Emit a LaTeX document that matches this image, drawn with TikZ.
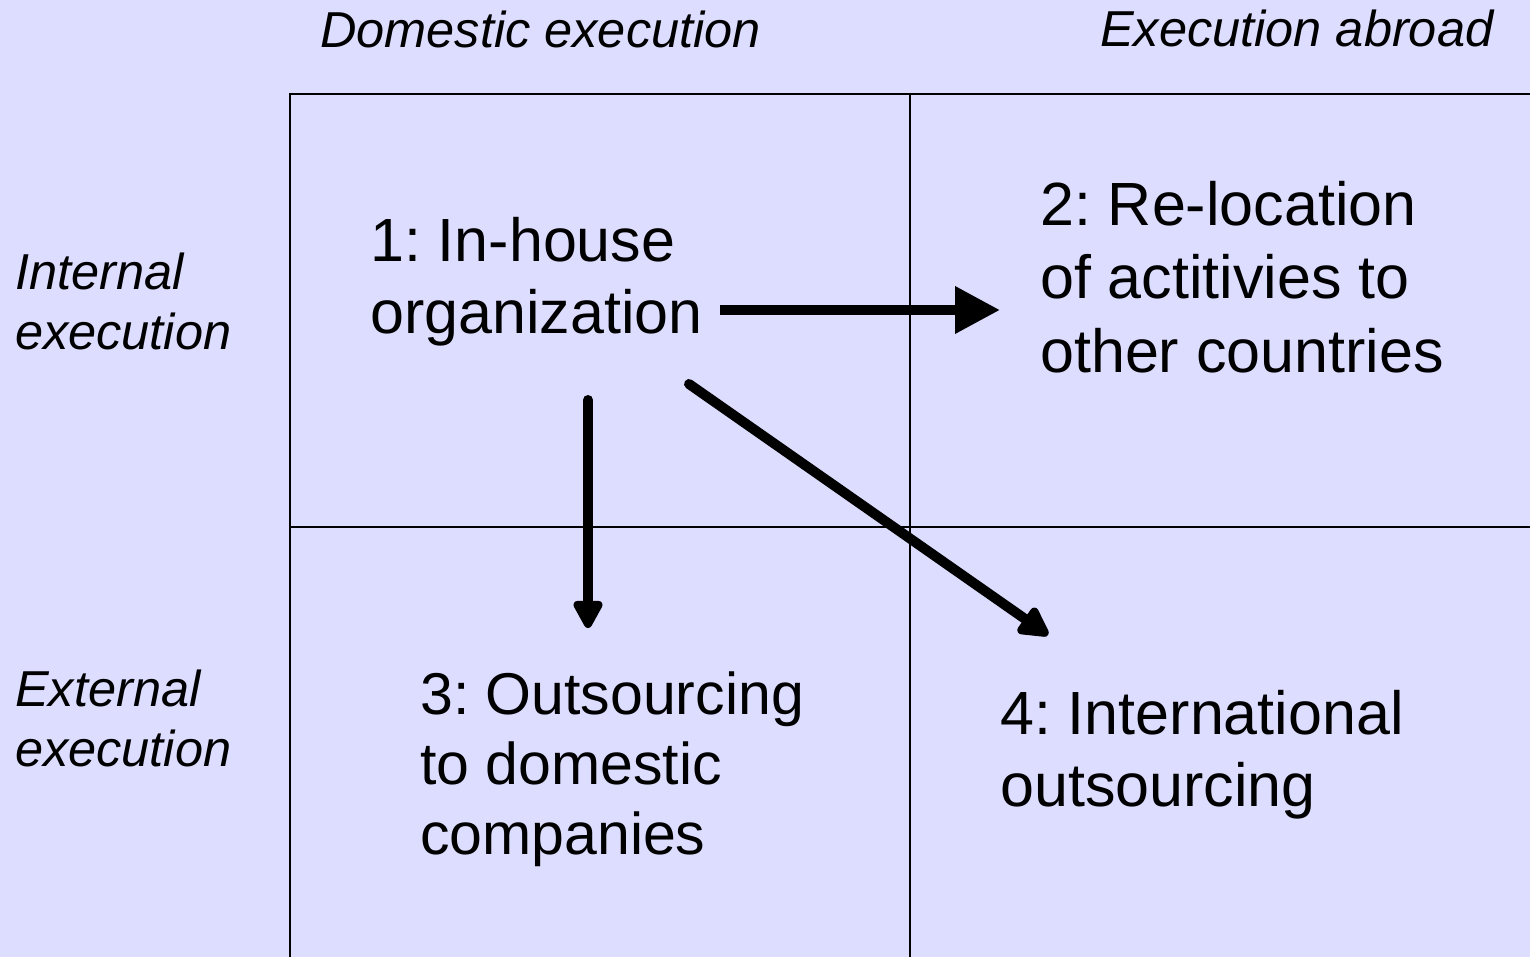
\documentclass[tikz,border=0pt]{standalone}
\usepackage{fontspec}
\setmainfont{Liberation Sans}
\usetikzlibrary{arrows.meta}
\definecolor{bgcol}{HTML}{DDDDFF}
\frenchspacing
\tikzset{
  grid/.style={line width=2.5pt, draw=black},
  big/.style={anchor=base west, inner sep=0pt, font=\fontsize{61}{73}\selectfont},
  bigsm/.style={big, font=\fontsize{59}{70}\selectfont},
  hdr/.style={anchor=base west, inner sep=0pt, font=\fontsize{50.5}{60}\itshape\selectfont},
  bigarrow/.style={line width=10pt, draw=black},
}
\begin{document}
\begin{tikzpicture}[x=1pt,y=-1pt]
\fill[bgcol] (0,0) rectangle (1530,957);
\useasboundingbox (0,0) rectangle (1530,957);
% grid
\draw[grid] (1531,94) -- (290,94) -- (290,958);
\draw[grid] (910,94) -- (910,958);
\draw[grid] (290,527) -- (1531,527);
% headers
\node[hdr] (h1) at (320,48) {Domestic execution};
\node[hdr] (h2) at (1100,47) {Execution abroad};
\node[hdr] (l1a) at (15,290) {Internal};
\node[hdr] (l1b) at (15,349) {execution};
\node[hdr] (l2a) at (15,706) {External};
\node[hdr] (l2b) at (15,766) {execution};
% cell texts
\node[big] (c1a) at (370,262) {1: In-house};
\node[big] (c1b) at (370,334) {organization};
\node[big] (c2a) at (1040,226) {2: Re-location};
\node[big] (c2b) at (1040,299) {of actitivies to};
\node[big] (c2c) at (1040,372) {other countries};
\node[bigsm] (c3a) at (420,714) {3: Outsourcing};
\node[bigsm] (c3b) at (420,784) {to domestic};
\node[bigsm] (c3c) at (420,854) {companies};
\node[big] (c4a) at (1000,734) {4: International};
\node[big] (c4b) at (1000,806) {outsourcing};
% arrow endpoints
\coordinate (a1s) at (720,310);
\coordinate (a1e) at (1000,310);
\coordinate (a2s) at (588,400);
\coordinate (a2e) at (588,628);
\coordinate (a3s) at (689,384);
\coordinate (a3e) at (1048,635);
\draw[bigarrow, -{Triangle[length=45pt,width=45pt]}] (a1s) -- (a1e);
\draw[bigarrow, line cap=round, -{Triangle[length=32pt,width=32pt,round]}] (a2s) -- (a2e);
\draw[bigarrow, line cap=round, -{Triangle[length=34pt,width=34pt,round]}] (a3s) -- (a3e);
\end{tikzpicture}
\end{document}
